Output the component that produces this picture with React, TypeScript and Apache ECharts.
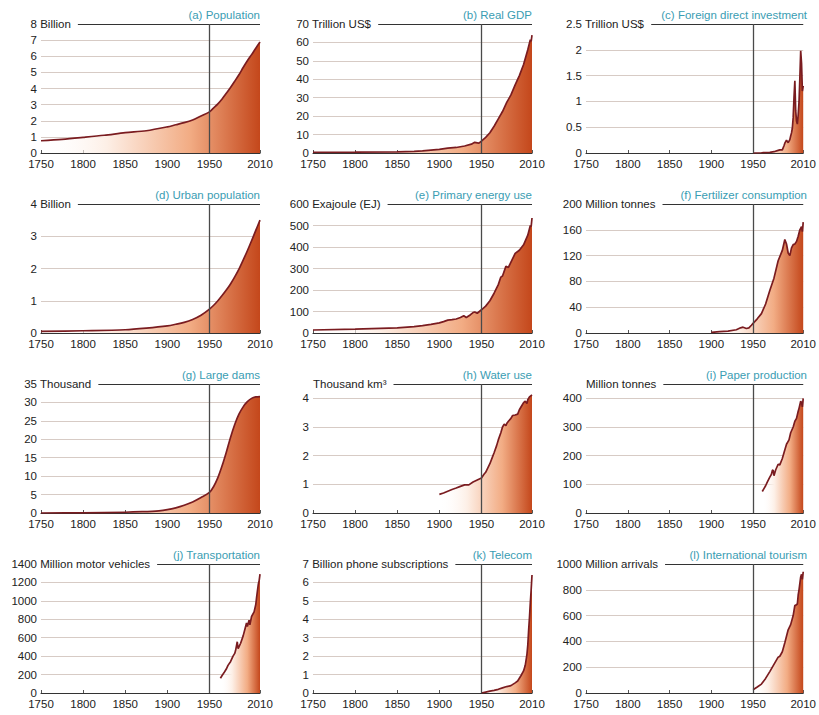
import React, { useEffect, useRef } from "react";
import * as echarts from "echarts";

const FONT = '"Liberation Sans", Arial, sans-serif';

// ---------- data ----------
const popYears = [1750, 1775, 1800, 1825, 1850, 1875, 1900, 1910, 1920, 1930, 1940, 1950, 1955, 1960, 1965, 1970, 1975, 1980, 1985, 1990, 1995, 2000, 2005, 2010];
const popValues = [0.76, 0.85, 0.97, 1.1, 1.26, 1.38, 1.62, 1.75, 1.88, 2.05, 2.3, 2.55, 2.8, 3.05, 3.35, 3.7, 4.06, 4.45, 4.85, 5.3, 5.72, 6.1, 6.5, 6.88];

const gdpYears = [1750, 1800, 1850, 1870, 1880, 1890, 1900, 1910, 1920, 1930, 1938, 1942, 1945, 1947, 1950, 1955, 1960, 1965, 1970, 1975, 1980, 1985, 1990, 1995, 2000, 2005, 2008, 2009, 2010];
const gdpValues = [0.4, 0.45, 0.6, 0.9, 1.2, 1.6, 2.0, 2.6, 3.0, 3.8, 4.8, 5.8, 5.5, 5.3, 6.5, 8.5, 11, 14.5, 18.5, 22.5, 27.5, 31.5, 37, 42, 48, 56, 61.5, 60.5, 64];

const fdiYears = [1950, 1960, 1970, 1975, 1980, 1982, 1985, 1987, 1988, 1990, 1992, 1994, 1995, 1996, 1997, 1998, 1999, 2000, 2001, 2002, 2003, 2004, 2005, 2006, 2007, 2008, 2009, 2010];
const fdiValues = [0, 0.005, 0.013, 0.025, 0.05, 0.06, 0.06, 0.14, 0.19, 0.25, 0.2, 0.26, 0.33, 0.39, 0.48, 0.69, 1.08, 1.4, 0.82, 0.62, 0.56, 0.74, 0.99, 1.46, 1.98, 1.74, 1.2, 1.3];

const urbanYears = [1750, 1800, 1850, 1875, 1900, 1910, 1920, 1930, 1940, 1950, 1955, 1960, 1965, 1970, 1975, 1980, 1985, 1990, 1995, 2000, 2005, 2010];
const urbanValues = [0.05, 0.07, 0.1, 0.15, 0.22, 0.27, 0.33, 0.42, 0.55, 0.74, 0.86, 1.0, 1.16, 1.33, 1.52, 1.74, 1.98, 2.26, 2.55, 2.86, 3.18, 3.5];

const energyYears = [1750, 1800, 1850, 1870, 1880, 1890, 1900, 1905, 1910, 1915, 1920, 1925, 1929, 1932, 1937, 1940, 1942, 1945, 1950, 1955, 1960, 1965, 1970, 1973, 1975, 1979, 1982, 1985, 1990, 1995, 2000, 2005, 2008, 2009, 2010];
const energyValues = [14, 18, 24, 30, 34, 40, 47, 53, 60, 62, 65, 72, 80, 72, 85, 95, 98, 92, 108, 125, 150, 185, 225, 260, 265, 310, 305, 330, 370, 385, 410, 455, 500, 495, 535];

const fertYears = [1900, 1910, 1920, 1930, 1935, 1938, 1942, 1945, 1948, 1950, 1955, 1960, 1965, 1970, 1975, 1980, 1985, 1988, 1990, 1992, 1994, 1996, 1998, 2000, 2002, 2004, 2006, 2008, 2009, 2010];
const fertValues = [1, 2, 3, 5, 8, 9, 7, 8, 12, 15, 22, 30, 45, 66, 85, 112, 128, 145, 138, 124, 120, 132, 137, 138, 142, 150, 160, 165, 157, 172];

const damYears = [1750, 1800, 1850, 1870, 1890, 1900, 1910, 1920, 1930, 1940, 1950, 1955, 1960, 1965, 1970, 1975, 1980, 1985, 1990, 1995, 2000, 2005, 2010];
const damValues = [0, 0.05, 0.2, 0.35, 0.6, 0.9, 1.4, 2.1, 3.0, 4.2, 5.6, 7.2, 9.6, 12.8, 16.5, 20.5, 24, 26.8, 28.8, 30.2, 31.1, 31.5, 31.6];

const waterYears = [1900, 1905, 1910, 1915, 1920, 1925, 1930, 1935, 1940, 1945, 1950, 1953, 1955, 1958, 1960, 1963, 1965, 1968, 1970, 1973, 1975, 1977, 1979, 1980, 1982, 1985, 1987, 1990, 1993, 1995, 1998, 2000, 2002, 2004, 2005, 2007, 2010];
const waterValues = [0.65, 0.7, 0.76, 0.82, 0.87, 0.93, 0.98, 0.98, 1.08, 1.15, 1.22, 1.35, 1.42, 1.6, 1.72, 1.95, 2.1, 2.35, 2.55, 2.8, 3.0, 3.1, 3.05, 3.12, 3.2, 3.3, 3.4, 3.42, 3.45, 3.6, 3.75, 3.85, 3.9, 3.82, 3.95, 4.05, 4.12];

const paperYears = [1961, 1963, 1965, 1967, 1970, 1972, 1973, 1974, 1975, 1977, 1980, 1982, 1985, 1987, 1990, 1993, 1995, 1998, 2000, 2002, 2004, 2005, 2007, 2008, 2009, 2010];
const paperValues = [75, 85, 95, 108, 125, 135, 148, 150, 130, 150, 170, 168, 190, 210, 240, 255, 280, 300, 320, 330, 355, 365, 390, 385, 370, 400];

const transYears = [1963, 1965, 1968, 1970, 1972, 1975, 1978, 1980, 1981, 1983, 1984, 1985, 1987, 1990, 1992, 1994, 1995, 1997, 1998, 2000, 2003, 2005, 2006, 2007, 2008, 2009, 2010];
const transValues = [160, 190, 230, 260, 300, 340, 400, 430, 460, 556, 480, 500, 540, 620, 690, 760, 720, 790, 740, 830, 880, 960, 1040, 1110, 1180, 1220, 1290];

const teleYears = [1950, 1955, 1960, 1965, 1970, 1975, 1980, 1985, 1990, 1993, 1995, 1997, 2000, 2002, 2004, 2005, 2006, 2007, 2008, 2009, 2010];
const teleValues = [0, 0.05, 0.1, 0.14, 0.2, 0.28, 0.35, 0.4, 0.55, 0.65, 0.8, 0.95, 1.2, 1.5, 2.1, 2.6, 3.4, 4.1, 4.9, 5.6, 6.4];

const tourYears = [1950, 1955, 1960, 1965, 1970, 1975, 1980, 1982, 1985, 1988, 1990, 1992, 1995, 1998, 2000, 2001, 2003, 2004, 2005, 2007, 2008, 2009, 2010];
const tourValues = [25, 46, 69, 113, 166, 222, 278, 285, 320, 390, 440, 490, 530, 600, 680, 680, 690, 760, 800, 900, 920, 880, 940];

const panelTitles = [
  "(a) Population", "(b) Real GDP", "(c) Foreign direct investment",
  "(d) Urban population", "(e) Primary energy use", "(f) Fertilizer consumption",
  "(g) Large dams", "(h) Water use", "(i) Paper production",
  "(j) Transportation", "(k) Telecom", "(l) International tourism",
];
const unitNumbers = ["8", "70", "2.5", "4", "600", "200", "35", "", "", "1400", "7", "1000"];
const unitTexts = [
  "Billion", "Trillion US$", "Trillion US$",
  "Billion", "Exajoule (EJ)", "Million tonnes",
  "Thousand", "Thousand km³", "Million tonnes",
  "Million motor vehicles", "Billion phone subscriptions", "Million arrivals",
];
const yMaxes = [8, 70, 2.5, 4, 600, 200, 35, 4.5, 450, 1400, 7, 1000];
const yIntervals = [1, 10, 0.5, 1, 100, 40, 5, 1, 100, 200, 1, 200];
const seriesYears = [popYears, gdpYears, fdiYears, urbanYears, energyYears, fertYears, damYears, waterYears, paperYears, transYears, teleYears, tourYears];
const seriesValues = [popValues, gdpValues, fdiValues, urbanValues, energyValues, fertValues, damValues, waterValues, paperValues, transValues, teleValues, tourValues];
const smoothPanels = [true, false, false, true, false, false, true, false, false, false, false, false];

const xTickLabels = [1750, 1800, 1850, 1900, 1950, 2010];
const markYear = 1950;

// ---------- layout / style ----------
const COL_LEFT = [41, 313, 586];
const COL_WIDTH = [219, 219, 221];
const ROW_TOP = [24, 204, 384, 564];
const GRID_H = 129;
const LABEL_MARGIN = 4;
const FS = 11.5;

function measure(text: string, font: string): number {
  const ctx = document.createElement("canvas").getContext("2d");
  if (!ctx) return text.length * 6;
  ctx.font = font;
  return ctx.measureText(text).width;
}

export default function App() {
  const ref = useRef<HTMLDivElement>(null);

  useEffect(() => {
    if (!ref.current) return;
    const chart = echarts.init(ref.current, undefined, { renderer: "svg" });

    const grids: any[] = [];
    const xAxes: any[] = [];
    const yAxes: any[] = [];
    const series: any[] = [];
    const graphics: any[] = [];
    const labelFont = `${FS}px ${FONT}`;

    for (let i = 0; i < 12; i++) {
      const r = Math.floor(i / 3);
      const c = i % 3;
      const left = COL_LEFT[c];
      const width = COL_WIDTH[c];
      const top = ROW_TOP[r];
      const max = yMaxes[i];
      grids.push({ left, top, width, height: GRID_H, containLabel: false });

      xAxes.push({
        type: "value",
        gridIndex: i,
        min: 1750,
        max: 2010,
        interval: 50,
        axisLine: { show: true, lineStyle: { color: "#333", width: 1.1 } },
        axisTick: { show: true, inside: true, length: 3, lineStyle: { color: "#555" } },
        splitLine: { show: false },
        axisLabel: {
          color: "#222",
          fontSize: FS,
          fontFamily: FONT,
          margin: 5,
          formatter: (v: number) => (xTickLabels.indexOf(v) >= 0 ? String(v) : ""),
        },
      });

      yAxes.push({
        type: "value",
        gridIndex: i,
        min: 0,
        max,
        interval: yIntervals[i],
        axisLine: { show: false },
        axisTick: { show: false },
        splitLine: { show: true, lineStyle: { color: "#d2c5be", width: 0.9 } },
        axisLabel: {
          color: "#222",
          fontSize: FS,
          fontFamily: FONT,
          margin: LABEL_MARGIN,
          formatter: (v: number) => (v >= max - 1e-9 ? "" : String(v)),
        },
      });

      const data = seriesYears[i].map((y, k) => [y, seriesValues[i][k]]);
      series.push({
        type: "line",
        xAxisIndex: i,
        yAxisIndex: i,
        data,
        smooth: smoothPanels[i] ? 0.3 : false,
        showSymbol: false,
        lineStyle: { color: "#7a1c20", width: 1.7 },
        areaStyle: {
          opacity: 1,
          color: new echarts.graphic.LinearGradient(0, 0, 1, 0, [
            { offset: 0, color: "rgba(255,255,255,0)" },
            { offset: 0.3, color: "#fdefe6" },
            { offset: 0.68, color: "#f2ac84" },
            { offset: 1, color: "#c4471b" },
          ]),
        },
        markLine: {
          silent: true,
          symbol: ["none", "none"],
          label: { show: false },
          animation: false,
          data: [
            { yAxis: max, lineStyle: { color: "#333", width: 1.2, type: "solid" } },
            { xAxis: markYear, lineStyle: { color: "#4a4a4a", width: 1.3, type: "solid" } },
          ],
        },
      });

      const num = unitNumbers[i];
      const text = num ? `${num} ${unitTexts[i]}` : unitTexts[i];
      const tx = num ? left - LABEL_MARGIN - measure(num, labelFont) : left;
      graphics.push({
        type: "text",
        z: 100,
        x: tx,
        y: top,
        style: {
          text,
          fill: "#222",
          font: labelFont,
          align: "left",
          verticalAlign: "middle",
          backgroundColor: "#ffffff",
          padding: [1, 7, 1, 0],
        },
      });
      graphics.push({
        type: "text",
        z: 100,
        x: left + width,
        y: top - 3,
        style: {
          text: panelTitles[i],
          fill: "#3a9db3",
          font: labelFont,
          align: "right",
          verticalAlign: "bottom",
        },
      });
    }

    chart.setOption({
      animation: false,
      backgroundColor: "#ffffff",
      grid: grids,
      xAxis: xAxes,
      yAxis: yAxes,
      series,
      graphic: graphics,
    });

    return () => chart.dispose();
  }, []);

  return (
    <div
      ref={ref}
      style={{ position: "absolute", left: 0, top: 0, width: 819, height: 715 }}
    />
  );
}
